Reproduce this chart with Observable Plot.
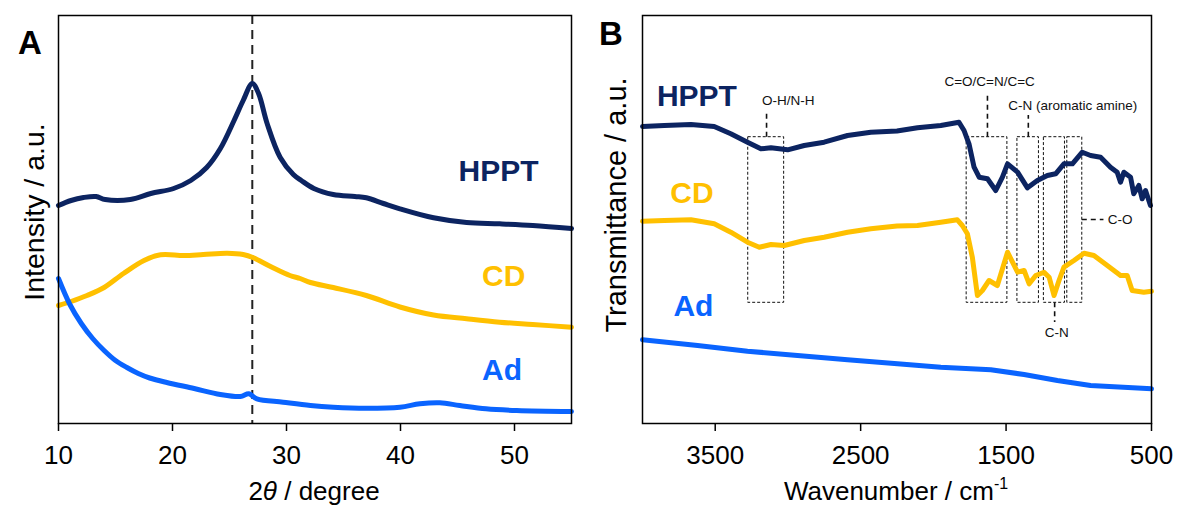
<!DOCTYPE html>
<html><head><meta charset="utf-8">
<script src="https://cdn.jsdelivr.net/npm/d3@7"></script>
<script src="https://cdn.jsdelivr.net/npm/@observablehq/plot@0.6"></script>
<style>
body{margin:0;background:#fff;font-family:"Liberation Sans",Arial,sans-serif;}
#wrap{position:relative;width:1179px;height:508px;overflow:hidden;background:#fff}
#a,#b{position:absolute;top:0}
#a{left:0}
#b{left:590px}
</style></head><body>
<div id="wrap"><div id="a"></div><div id="b"></div></div>
<script>
// ---------- data ----------
const seriesNames = ["HPPT", "CD", "Ad"];
const seriesColors = ["#0c2461", "#ffc000", "#0a64ff"];

// Panel A: XRD, [2theta (deg), intensity (a.u.)]
const xrdTicks = [10, 20, 30, 40, 50];
const xrdPeak = 27;
const xrdHPPT = [[10,218],[11.1,223],[12.2,226],[13.3,227],[14.1,224],[16.3,224],[18.1,230],[20.1,235],[21.6,243],[23.0,256],[24.2,275],[25.4,303],[26.2,323],[27.0,340],[27.55,330],[28.3,300],[29.45,266],[30.6,249],[31.3,243],[32.4,235],[34.1,229],[36.0,227],[37.0,225.7],[38.5,220],[39.95,214.7],[42.9,205.7],[45.8,201],[48.7,199.7],[51.6,198],[55,195]];
const xrdCD = [[10,118],[11.1,122],[12.5,128],[14,136],[15.7,150],[17.5,163],[18.95,168.7],[21,168],[22.7,169],[24.8,170.3],[26.2,169],[27.1,165.7],[28.6,157],[30.3,148],[31.2,145],[32.1,141],[34.1,136],[37,128],[39.95,116.5],[42.9,108.5],[45.8,104.7],[48.7,101.3],[51.6,99],[55,96.3]];
const xrdAd = [[10,145],[11,119],[12,100],[13,85],[14,73],[15,63],[16,56],[17,50],[18,45.5],[19.5,41],[21.9,35],[24.2,29],[25.95,27],[26.7,29.7],[27.4,24.7],[29.7,21.3],[32.1,18],[34.1,16.3],[37,15.3],[39.95,16.3],[41.7,19.7],[43.45,20.7],[45.2,18],[47.5,14.7],[50.2,13],[55,12]];
const xrdLabelX = [48.6, 49.05, 48.9];
const xrdLabelY = [252, 147, 53];

// Panel B: FTIR, [wavenumber (cm-1), transmittance (a.u.)]
const ftirTicks = [3500, 2500, 1500, 500];
const ftirHPPT = [[4000,297],[3850,298],[3667,299],[3507,297],[3393,289.7],[3278,281.3],[3186,274.7],[3117,275.7],[3002,273.7],[2888,278],[2751,281.3],[2590,288],[2430,291.3],[2250,292.5],[2109,295.7],[1949,298],[1824,301.3],[1789,293],[1755,279.7],[1720,256.3],[1685,246.3],[1628,244.7],[1571,233],[1525,246.3],[1490,259.7],[1421,251.3],[1353,235.7],[1285,243],[1216,248],[1159,249.7],[1102,259.7],[1044,259.7],[976,271.3],[919,268],[850,266.3],[782,256.3],[736,251.3],[713,241.3],[690,251.3],[644,246.3],[622,229.7],[587,238],[564,224.7],[541,233],[507,218]];
const ftirCD = [[4000,202.3],[3850,203],[3667,203.7],[3507,199.7],[3393,191.3],[3278,181.3],[3197,176.3],[3117,179],[3025,178],[2888,183],[2751,186.3],[2590,191.3],[2430,194.7],[2250,197.5],[2109,198],[1949,201.3],[1835,203.7],[1801,198],[1766,189.7],[1732,166.3],[1697,128],[1663,133],[1617,143],[1560,138],[1490,171.3],[1421,151.3],[1376,153],[1341,139.7],[1296,148],[1239,151.3],[1204,146.3],[1170,128],[1136,143],[1102,156.3],[1033,163],[964,170.3],[896,168],[804,158],[713,148],[667,148],[633,133],[553,131.3],[500,132.3]];
const ftirAd = [[4000,83.7],[3621,78],[3278,72.3],[2934,68],[2590,63.7],[2247,59.7],[1949,56.3],[1605,53.7],[1376,49],[1147,43],[919,38],[500,34.7]];
const ftirLabelX = [3626, 3660, 3650];
const ftirLabelY = [327, 230, 117];

// FTIR band annotations
const bandNames = ["O-H/N-H", "C=O/C=N/C=C", "C-N (aromatic amine)", "C-N", "C-O"];
const bandHi = [3273, 1771, 1422, 1240, 1079];
const bandLo = [3026, 1491, 1274, 1095, 976];
const bandBottom = 120.7, bandTop = 286.3;
const leaderX = [3147, 1628, 1347, 1166];
const leaderY1 = [286.3, 286.3, 286.3, 120.7];
const leaderY2 = [312, 330, 308, 101];
const noteX = [2997, 1613, 1042, 1152];
const noteY = [323, 342, 318, 90.5];
const coLeaderY = 204, coLeaderX1 = 976, coLeaderX2 = 827, coNoteX = 800;

// ---------- build ----------
const FONT = '"Liberation Sans", Arial, Helvetica, sans-serif';
const toRows = (name, pts) => pts.map(([x, y]) => ({name, x, y}));
const xrd = [...toRows("HPPT", xrdHPPT), ...toRows("CD", xrdCD), ...toRows("Ad", xrdAd)];
const ftir = [...toRows("HPPT", ftirHPPT), ...toRows("CD", ftirCD), ...toRows("Ad", ftirAd)];
const labelsA = seriesNames.map((name, i) => ({name, x: xrdLabelX[i], y: xrdLabelY[i]}));
const labelsB = seriesNames.map((name, i) => ({name, x: ftirLabelX[i], y: ftirLabelY[i]}));
const bands = bandNames.map((name, i) => ({name, hi: bandHi[i], lo: bandLo[i]}));
const leaders = leaderX.map((x, i) => ({x, y1: leaderY1[i], y2: leaderY2[i]}));
const notes = leaderX.map((x, i) => ({label: bandNames[i], x: noteX[i], y: noteY[i]}));

const colorOpt = {domain: seriesNames, range: seriesColors};
const styleOpt = {fontFamily: FONT, fontSize: "26px", color: "black", background: "white", overflow: "visible"};
const plainNum = d3.format("d");

const plotA = Plot.plot({
  width: 590, height: 508,
  marginLeft: 58, marginRight: 19, marginTop: 15, marginBottom: 85,
  style: styleOpt,
  x: {domain: [10, 55]},
  y: {domain: [0, 408], axis: null},
  color: colorOpt,
  marks: [
    Plot.ruleX([xrdPeak], {x: d => d, stroke: "#222", strokeWidth: 2, strokeDasharray: "9,6"}),
    Plot.line(xrd, {x: "x", y: "y", z: "name", stroke: "name", strokeWidth: 5, curve: "catmull-rom"}),
    Plot.text(labelsA, {x: "x", y: "y", text: "name", fill: "name", fontSize: 30, fontWeight: "bold"}),
    Plot.frame({stroke: "black", strokeWidth: 1.5}),
    Plot.axisX({ticks: xrdTicks, tickFormat: plainNum, tickSize: 8, tickPadding: 14, label: null, strokeWidth: 1.5, fontSize: 26})
  ]
});

const plotB = Plot.plot({
  width: 589, height: 508,
  marginLeft: 52, marginRight: 28, marginTop: 15, marginBottom: 85,
  style: styleOpt,
  x: {domain: [4000, 500]},
  y: {domain: [0, 408], axis: null},
  color: colorOpt,
  marks: [
    Plot.rect(bands, {x1: "hi", x2: "lo", y1: () => bandBottom, y2: () => bandTop, fill: "none", stroke: "#111", strokeWidth: 1, strokeDasharray: "3,2"}),
    Plot.ruleX(leaders, {x: "x", y1: "y1", y2: "y2", stroke: "#111", strokeWidth: 1.6, strokeDasharray: "5,4"}),
    Plot.ruleY([coLeaderY], {y: d => d, x1: () => coLeaderX1, x2: () => coLeaderX2, stroke: "#111", strokeWidth: 1.6, strokeDasharray: "5,4"}),
    Plot.line(ftir, {x: "x", y: "y", z: "name", stroke: "name", strokeWidth: 5}),
    Plot.text(notes, {x: "x", y: "y", text: "label", fill: "#111", fontSize: 13.5}),
    Plot.text([bandNames[4]], {x: () => coNoteX, y: () => coLeaderY, text: d => d, fill: "#111", fontSize: 13.5, textAnchor: "start"}),
    Plot.text(labelsB, {x: "x", y: "y", text: "name", fill: "name", fontSize: 30, fontWeight: "bold"}),
    Plot.frame({stroke: "black", strokeWidth: 1.5}),
    Plot.axisX({ticks: ftirTicks, tickFormat: plainNum, tickSize: 8, tickPadding: 14, label: null, strokeWidth: 1.5, fontSize: 26})
  ]
});

document.getElementById("a").appendChild(plotA);
document.getElementById("b").appendChild(plotB);

// titles and panel letters
function addText(svg, x, y, txt, opts = {}) {
  const t = d3.select(svg).append("text")
    .attr("x", x).attr("y", y)
    .attr("text-anchor", opts.anchor || "middle")
    .attr("font-family", FONT)
    .attr("font-size", opts.size || 26)
    .attr("font-weight", opts.weight || "normal")
    .attr("fill", "black");
  if (opts.rotate) t.attr("transform", `rotate(-90,${x},${y})`);
  if (txt != null) t.text(txt);
  return t;
}
addText(plotA, 30, 54, "A", {size: 33, weight: "bold"});
addText(plotB, 21, 45, "B", {size: 33, weight: "bold"});
addText(plotA, 44, 212, "Intensity / a.u.", {size: 28.5, rotate: true});
addText(plotB, 36, 205, "Transmittance / a.u.", {size: 29, rotate: true});

const tA = addText(plotA, 314, 500, null, {size: 26});
tA.append("tspan").text("2");
tA.append("tspan").attr("font-style", "italic").text("θ");
tA.append("tspan").text(" / degree");

const tB = addText(plotB, 306, 500, null, {size: 26});
tB.append("tspan").text("Wavenumber / cm");
tB.append("tspan").attr("font-size", 16).attr("dy", -11).text("-1");
</script>
</body></html>
